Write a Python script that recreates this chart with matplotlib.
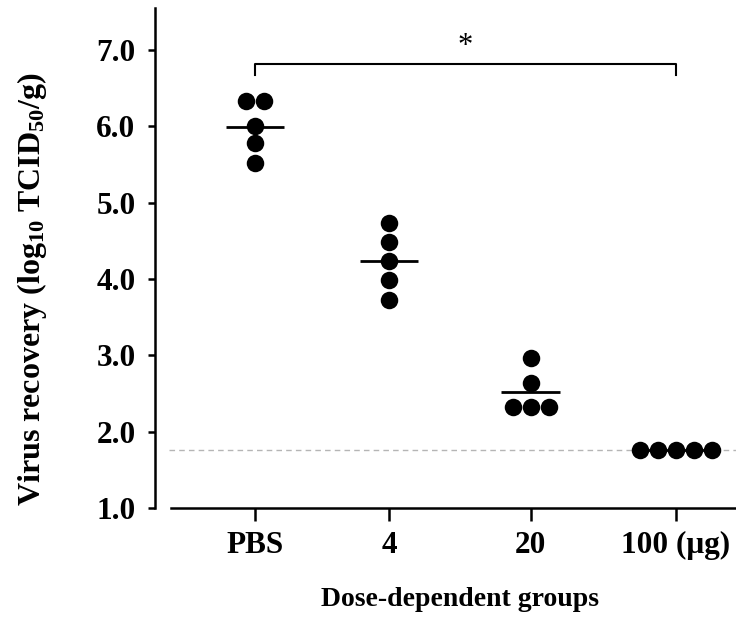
import numpy as np
import matplotlib
matplotlib.use("Agg")
import matplotlib.pyplot as plt

# ---- data ----
groups = ["PBS", "4", "20", "100 (\u03bcg)"]
pbs = [6.33, 6.33, 6.00, 5.78, 5.52]
dose4 = [4.73, 4.48, 4.23, 3.99, 3.73]
dose20 = [2.97, 2.64, 2.32, 2.32, 2.32]
dose100 = [1.76, 1.76, 1.76, 1.76, 1.76]
detection_limit = 1.76
yticks = [1.0, 2.0, 3.0, 4.0, 5.0, 6.0, 7.0]
ytick_labels = ["1.0", "2.0", "3.0", "4.0", "5.0", "6.0", "7.0"]
sig_label = "*"

series = [pbs, dose4, dose20, dose100]

# ---- layout ----
group_x = [0.0, 0.957, 1.971, 3.007]
spread = 0.129
mean_half = 0.21

plt.rcParams["font.family"] = ["Liberation Serif", "DejaVu Serif"]
plt.rcParams["font.weight"] = "bold"
plt.rcParams["mathtext.fontset"] = "custom"
plt.rcParams["mathtext.rm"] = "Liberation Serif:bold"
plt.rcParams["mathtext.bf"] = "Liberation Serif:bold"
plt.rcParams["mathtext.it"] = "Liberation Serif:bold"

fig = plt.figure(figsize=(7.36, 6.23), dpi=100)
W, H = 736, 623
ax = fig.add_axes([155 / W, (H - 508) / H, (736 - 155) / W, (508 - 8) / H])

for gx, vals in zip(group_x, series):
    vals = np.array(vals)
    xs = np.zeros(len(vals))
    for v in np.unique(vals):
        idx = np.where(vals == v)[0]
        n = len(idx)
        offs = (np.arange(n) - (n - 1) / 2) * spread
        xs[idx] = gx + offs
    m = vals.mean()
    ax.plot([gx - mean_half, gx + mean_half], [m, m], color="black", lw=2.0,
            solid_capstyle="butt", zorder=2)
    ax.plot(xs, vals, "o", color="black", markersize=12.6, markeredgewidth=0,
            zorder=3, clip_on=False)

ax.axhline(detection_limit, xmin=(169 - 155) / 581, xmax=1, color="#b5b5b5",
           lw=1.0, ls=(0, (4, 3)), zorder=1)

# significance bracket
yb, yd = 6.82, 6.67
ax.plot([group_x[0], group_x[0], group_x[3], group_x[3]], [yd, yb, yb, yd],
        color="black", lw=1.5, clip_on=False)
ax.text((group_x[0] + group_x[3]) / 2, yb + 0.03, sig_label, ha="center",
        va="bottom", fontsize=22, fontweight="normal")

ax.set_xlim(-0.714, 3.436)
ax.set_ylim(1.0, 7.55)

ax.spines["top"].set_visible(False)
ax.spines["right"].set_visible(False)
ax.spines["left"].set_linewidth(1.8)
ax.spines["bottom"].set_linewidth(1.8)
ax.spines["bottom"].set_bounds(-0.6, 3.436)

ax.set_xticks(group_x)
ax.set_xticklabels(groups, fontsize=22.5, fontweight="bold")
ax.set_yticks(yticks)
ax.set_yticklabels(ytick_labels, fontsize=22.5, fontweight="bold")
ax.tick_params(axis="x", direction="out", length=9.5, width=1.8, pad=7)
ax.tick_params(axis="y", direction="out", length=5, width=1.8, pad=9)

fig.text(32 / W, (H - 289) / H,
         r"Virus recovery (log$_{10}$ TCID$_{50}$/g)", rotation=90,
         ha="center", va="center", fontsize=23, fontweight="bold")
fig.text(460 / W, (H - 600) / H, "Dose-dependent groups", ha="center",
         va="center", fontsize=20, fontweight="bold")

fig.savefig("out.png", dpi=100)
